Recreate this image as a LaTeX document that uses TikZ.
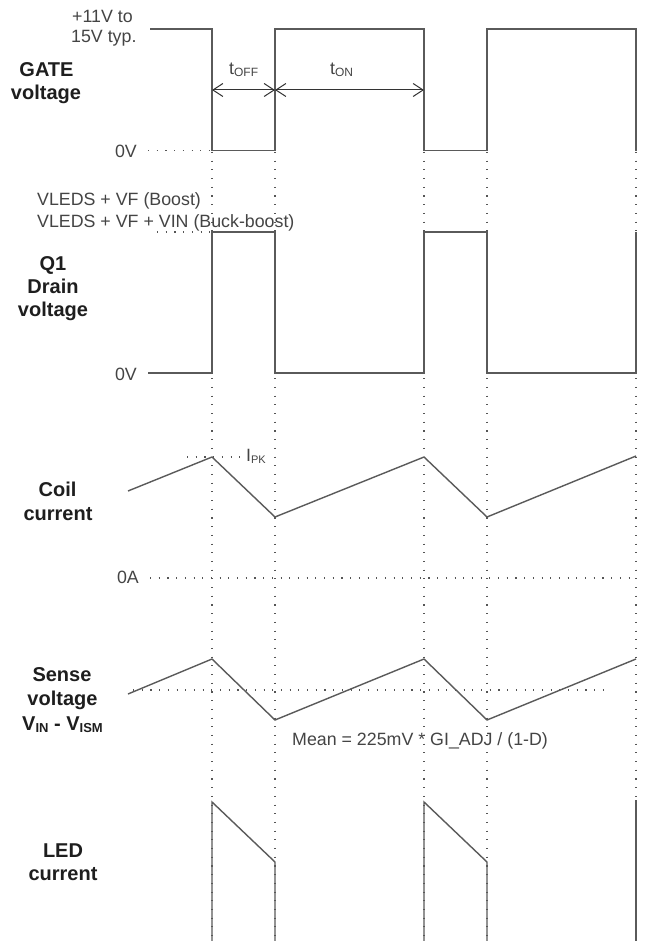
\documentclass[tikz,border=0pt]{standalone}
\usepackage{fontspec}
\setmainfont{Liberation Sans}
\usetikzlibrary{arrows.meta}
\definecolor{wavegray}{HTML}{5A5A5A}
\definecolor{dotgray}{HTML}{555555}
\definecolor{textc}{HTML}{444444}
\definecolor{labelc}{HTML}{1E1E1E}
\definecolor{arrowc}{HTML}{333333}
\begin{document}
\begin{tikzpicture}[x=1pt,y=-1pt,
  wave/.style={draw=wavegray,line width=1.4pt,line join=miter},
  guide/.style={draw=dotgray,line width=1.1pt,dash pattern=on 1.1pt off 7.6pt},
  lbl/.style={font=\fontsize{20}{23}\selectfont\bfseries,text=labelc,inner sep=0pt,anchor=base},
  txt/.style={font=\fontsize{17.8}{20}\selectfont,text=textc,inner sep=0pt},
  dim/.style={draw=arrowc,line width=1pt,{Straight Barb[length=10pt,width=13pt]}-{Straight Barb[length=10pt,width=13pt]}}]
\fill[white] (0,0) rectangle (646,941);
\useasboundingbox (0,0) rectangle (646,941);

% dotted guides
\foreach \gx in {212,275,424,487,636} {\draw[guide] (\gx,152) -- (\gx,941);}
\draw[guide] (148,150.7) -- (212,150.7);
\draw[guide] (157,232) -- (212,232);
\draw[guide] (187,457) -- (240,457);
\draw[guide] (150,578) -- (636,578);
\draw[guide] (133,690) -- (610,690);

% waveforms
\draw[wave] (150,29) -| (212,150.7) -| (275,29) -| (424,150.7) -| (487,29) -| (636,150.7);
\draw[wave] (148,373) -| (212,232) -| (275,373) -| (424,232) -| (487,373) -| (636,232);
\draw[wave] (128,491) -- (212,457) -- (275,517) -- (424,457) -- (487,517) -- (636,456);
\draw[wave] (128,694) -- (212,659) -- (275,720) -- (424,659) -- (487,720) -- (636,659);
\draw[wave] (212,941) -- (212,802) -- (275,862) -- (275,941);
\draw[wave] (424,941) -- (424,802) -- (487,862) -- (487,941);
\draw[wave] (636,941) -- (636,800);

% time arrows
\coordinate (a1) at (212,90);
\coordinate (a2) at (275,90);
\coordinate (a3) at (424,90);
\draw[dim] (a1) -- (a2);
\draw[dim] (a2) -- (a3);

% regular text
\node[txt,anchor=base west] (v11) at (72,22.7) {+11V to};
\node[txt,anchor=base west] (v15) at (71,42.7) {15V typ.};
\node[txt,anchor=base east] (zg) at (137,157.7) {0V};
\node[txt,anchor=base east] (zd) at (137,380) {0V};
\node[txt,anchor=base east] (za) at (139,583) {0A};
\node[txt,anchor=base west] (vb) at (37,206) {VLEDS + VF (Boost)};
\node[txt,anchor=base west] (vbb) at (37,227.5) {VLEDS + VF + VIN (Buck-boost)};
\node[txt,anchor=base west] (toff) at (229,75) {t\raisebox{-2pt}{\fontsize{12}{12}\selectfont OFF}};
\node[txt,anchor=base west] (ton) at (330,75) {t\raisebox{-2pt}{\fontsize{12}{12}\selectfont ON}};
\node[txt,anchor=base west] (ipk) at (246,461.7) {I\raisebox{-1.5pt}{\fontsize{11}{11}\selectfont PK}};
\node[txt,anchor=base west] (mean) at (292,745) {Mean = 225mV * GI\_ADJ / (1-D)};

% bold labels
\node[lbl] (g1) at (46.5,77) {GATE};
\node[lbl] (g2) at (46,100) {voltage};
\node[lbl] (q1) at (53,270) {Q1};
\node[lbl] (q2) at (53,293) {Drain};
\node[lbl] (q3) at (53,316.5) {voltage};
\node[lbl] (c1) at (57.5,496) {Coil};
\node[lbl] (c2) at (58,520) {current};
\node[lbl] (s1) at (62,681.5) {Sense};
\node[lbl] (s2) at (62.5,705) {voltage};
\node[lbl] (s3) at (62.5,730) {V\raisebox{-2pt}{\fontsize{13}{13}\selectfont IN} - V\raisebox{-2pt}{\fontsize{13}{13}\selectfont ISM}};
\node[lbl] (l1) at (63,857) {LED};
\node[lbl] (l2) at (63,880) {current};
\end{tikzpicture}
\end{document}
